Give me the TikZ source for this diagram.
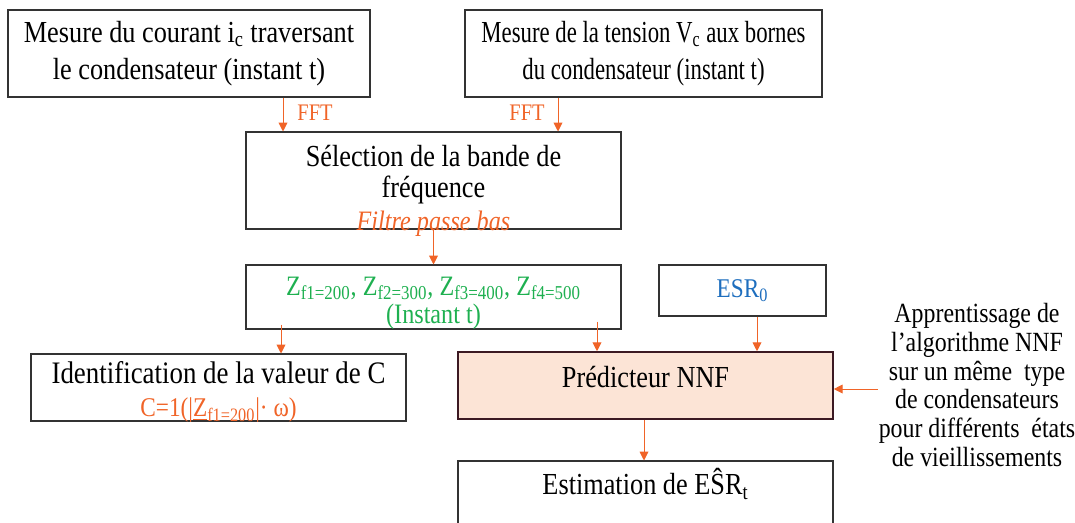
\documentclass[tikz,border=0pt]{standalone}
\usepackage{fontspec}
\setmainfont{Liberation Serif}[FakeStretch=0.86]
\newfontfamily\narrowserif{Liberation Serif}[FakeStretch=0.745]
\usepackage{xcolor}
\usetikzlibrary{positioning,calc,arrows.meta}

\definecolor{flowor}{RGB}{240,100,40}
\definecolor{zgreen}{RGB}{30,176,80}
\definecolor{esrblue}{RGB}{30,110,190}
\definecolor{predfill}{RGB}{252,228,214}
\definecolor{predline}{RGB}{60,25,35}

\newcommand{\txtsize}[1]{\fontsize{17.4}{#1}\selectfont}

\tikzset{
  box/.style={draw=black!80, line width=0.6pt, inner sep=0pt, align=center, font=\txtsize{21}},
  flow/.style={draw=flowor, line width=0.5pt, -{Triangle[length=5pt,width=5pt]}},
  fftlbl/.style={text=flowor, font=\fontsize{13.5}{14}\selectfont}
}

\begin{document}
\begin{tikzpicture}[x=0.02cm, y=-0.02cm]
  \useasboundingbox (0,0) rectangle (1075,522);

  % Mesures
  \node[box, minimum width=362*0.02cm, minimum height=87*0.02cm] (mesi) at (189,53.5)
    {Mesure du courant i\textsubscript{c} traversant\\le condensateur (instant t)};
  \node[box, font=\txtsize{21}\narrowserif, minimum width=357*0.02cm, minimum height=87*0.02cm] (mesv) at (643.5,53.5)
    {Mesure de la tension V\textsubscript{c} aux bornes\\du condensateur (instant t)};

  % Selection de la bande
  \node[box, minimum width=375*0.02cm, minimum height=97*0.02cm] (sel) at (433.5,180.5) {};
  \node[font=\txtsize{17.6}, align=center] (seltxt) at (433.5,174.5)
    {Sélection de la bande de\\fréquence};
  \node[text=flowor, font=\fontsize{16}{16}\selectfont\itshape] (filtre) at (433.5,224) {Filtre passe bas};

  % Impedances
  \node[box, minimum width=375*0.02cm, minimum height=64*0.02cm] (zbox) at (433.5,297) {};
  \node[text=zgreen, align=center, font=\fontsize{16}{16}\selectfont] (ztxt) at (433.5,303)
    {Z\textsubscript{f1=200}, Z\textsubscript{f2=300}, Z\textsubscript{f3=400}, Z\textsubscript{f4=500}\\(Instant t)};
  \node[box, font=\fontsize{15.4}{16}\selectfont, text=esrblue, minimum width=167*0.02cm, minimum height=51*0.02cm] (esr) at (742.5,290.5)
    {ESR\textsubscript{0}};

  % Identification de C
  \node[box, minimum width=375*0.02cm, minimum height=67*0.02cm] (ident) at (218.5,387.5) {};
  \node[align=center, font=\fontsize{17.8}{18.8}\selectfont] (identtxt) at (218.5,392)
    {Identification de la valeur de C\\\fontsize{15.4}{16}\selectfont\textcolor{flowor}{C=1(|\underline{Z}\textsubscript{f1=200}|· ω)}};

  % Predicteur NNF
  \node[box, draw=predline, line width=0.9pt, fill=predfill, minimum width=375*0.02cm, minimum height=67*0.02cm] (pred) at (645.5,385.5) {};
  \node[font=\txtsize{21}] (predtxt) at (645.5,377) {Prédicteur NNF};
  \node[align=center, font=\fontsize{15.8}{16.3}\selectfont] (appr) at (977,385)
    {Apprentissage de\\l’algorithme NNF\\sur un même~ type\\de condensateurs\\pour différents~ états\\de vieillissements};

  % Estimation
  \node[box, minimum width=375*0.02cm, minimum height=80*0.02cm] (est) at (645.5,501) {};
  \node[font=\txtsize{21}] (esttxt) at (645.5,484) {Estimation de EŜR\textsubscript{t}};

  % Connectors
  \draw[flow] (mesi.south -| 283,0) -- (sel.north -| 283,0);
  \node[fftlbl] (fft1) at (315,113) {FFT};
  \draw[flow] (mesv.south -| 558,0) -- (sel.north -| 558,0);
  \node[fftlbl] (fft2) at (527,113) {FFT};
  \draw[flow] (sel.south) -- (zbox.north);
  \draw[flow] ([yshift=0.1cm]zbox.south -| 281,0) -- (ident.north -| 281,0);
  \draw[flow] ([yshift=0.16cm]zbox.south -| 597,0) -- (pred.north -| 597,0);
  \draw[flow] (esr.south -| 757,0) -- (pred.north -| 757,0);
  \draw[flow] (pred.east |- 0,389) ++(44,0) -- (pred.east |- 0,389);
  \draw[flow] (pred.south -| 644,0) -- (est.north -| 644,0);
\end{tikzpicture}
\end{document}
